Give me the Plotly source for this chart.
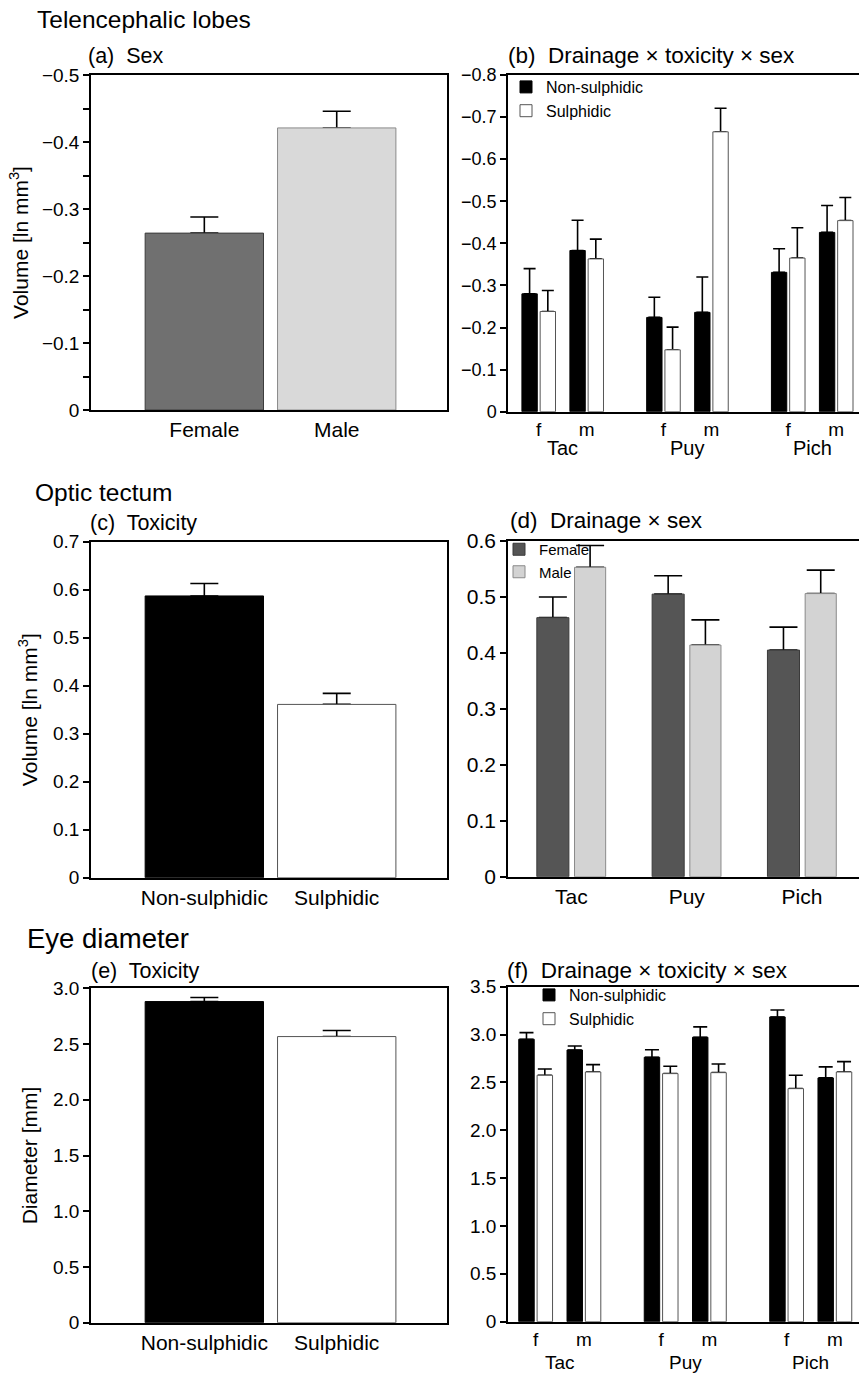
import plotly.graph_objects as go

FONT = "Liberation Sans, Arial, Helvetica, sans-serif"
W, H = 859, 1375

# ---------------- data ----------------
sex_labels = ["Female", "Male"]
tel_sex_mean = [-0.264, -0.421]
tel_sex_se = [0.024, 0.025]

drainages = ["Tac", "Puy", "Pich"]
sexes = ["f", "m"]
# order: Tac f, Tac m, Puy f, Puy m, Pich f, Pich m
tel_ns_mean = [-0.280, -0.383, -0.224, -0.236, -0.331, -0.426]
tel_ns_se = [0.060, 0.072, 0.048, 0.084, 0.056, 0.064]
tel_s_mean = [-0.238, -0.363, -0.147, -0.665, -0.365, -0.454]
tel_s_se = [0.050, 0.047, 0.054, 0.056, 0.072, 0.055]

toxicity_labels = ["Non-sulphidic", "Sulphidic"]
opt_tox_mean = [0.587, 0.361]
opt_tox_se = [0.026, 0.023]

opt_female_mean = [0.463, 0.505, 0.405]
opt_female_se = [0.037, 0.033, 0.041]
opt_male_mean = [0.553, 0.414, 0.506]
opt_male_se = [0.039, 0.045, 0.042]

eye_tox_mean = [2.881, 2.567]
eye_tox_se = [0.036, 0.054]

eye_ns_mean = [2.951, 2.839, 2.763, 2.972, 3.184, 2.547]
eye_ns_se = [0.069, 0.042, 0.079, 0.108, 0.073, 0.115]
eye_s_mean = [2.575, 2.609, 2.592, 2.602, 2.435, 2.609]
eye_s_se = [0.065, 0.077, 0.077, 0.091, 0.140, 0.108]

# tick values / labels
tel_a_ticks = [0, -0.1, -0.2, -0.3, -0.4, -0.5]
tel_a_labels = ["0", "\u22120.1", "\u22120.2", "\u22120.3", "\u22120.4", "\u22120.5"]
tel_a_minor = [-0.05, -0.15, -0.25, -0.35, -0.45]
tel_b_ticks = [0, -0.1, -0.2, -0.3, -0.4, -0.5, -0.6, -0.7, -0.8]
tel_b_labels = ["0", "\u22120.1", "\u22120.2", "\u22120.3", "\u22120.4", "\u22120.5",
                "\u22120.6", "\u22120.7", "\u22120.8"]
opt_c_ticks = [0, 0.1, 0.2, 0.3, 0.4, 0.5, 0.6, 0.7]
opt_c_labels = ["0", "0.1", "0.2", "0.3", "0.4", "0.5", "0.6", "0.7"]
opt_d_ticks = [0, 0.1, 0.2, 0.3, 0.4, 0.5, 0.6]
opt_d_labels = ["0", "0.1", "0.2", "0.3", "0.4", "0.5", "0.6"]
eye_e_ticks = [0, 0.5, 1.0, 1.5, 2.0, 2.5, 3.0]
eye_e_labels = ["0", "0.5", "1.0", "1.5", "2.0", "2.5", "3.0"]
eye_f_ticks = [0, 0.5, 1.0, 1.5, 2.0, 2.5, 3.0, 3.5]
eye_f_labels = ["0", "0.5", "1.0", "1.5", "2.0", "2.5", "3.0", "3.5"]

# ---------------- layout helpers ----------------
GROUP_STEP = 2.6  # spacing between drainages (in sex-slot units)
pos3 = [d * GROUP_STEP + s for d in range(len(drainages)) for s in range(len(sexes))]
sex_ticktext = [sexes[s] for d in range(len(drainages)) for s in range(len(sexes))]
drain_centers = [d * GROUP_STEP + 0.5 for d in range(len(drainages))]


def ydom(top_px, bot_px):
    return [1 - bot_px / H, 1 - top_px / H]


LEFT_X = [91 / W, 447 / W]
RIGHT_X = [508 / W, 1.0]

BLACK = "black"
WHITE_EDGE = "#555555"

fig = go.Figure()


def add_bars(x, y, se, cap, axes, negative=False, **bar_kw):
    """Error bars drawn underneath (one-sided), then the visible bars on top."""
    xa, ya = axes
    zeros = [0] * len(se)
    if negative:
        e = dict(type="data", symmetric=False, array=zeros, arrayminus=se,
                 color=BLACK, thickness=1.6, width=cap)
    else:
        e = dict(type="data", symmetric=False, array=se, arrayminus=zeros,
                 color=BLACK, thickness=1.6, width=cap)
    geom = {k: bar_kw[k] for k in ("width", "offset") if k in bar_kw}
    fig.add_trace(go.Bar(x=x, y=y, marker=dict(color="rgba(0,0,0,0)", line=dict(width=0)),
                         error_y=e, xaxis=xa, yaxis=ya, showlegend=False,
                         hoverinfo="skip", **geom))
    fig.add_trace(go.Bar(x=x, y=y, xaxis=xa, yaxis=ya, **bar_kw))


# (a) Telencephalic lobes: sex
add_bars(sex_labels, tel_sex_mean, tel_sex_se, 14, ("x", "y"), negative=True,
         width=0.894, showlegend=False,
         marker=dict(color=["#707070", "#d9d9d9"], line=dict(color=["#3c3c3c", "#8a8a8a"], width=1)))

# (b) Telencephalic lobes: drainage x toxicity x sex
add_bars(pos3, tel_ns_mean, tel_ns_se, 6, ("x2", "y2"), negative=True,
         width=0.32, offset=-0.35, name="Non-sulphidic", legend="legend",
         marker=dict(color=BLACK, line=dict(color=BLACK, width=1)))
add_bars(pos3, tel_s_mean, tel_s_se, 6, ("x2", "y2"), negative=True,
         width=0.32, offset=0.03, name="Sulphidic", legend="legend",
         marker=dict(color="white", line=dict(color=WHITE_EDGE, width=1)))

# (c) Optic tectum: toxicity
add_bars(toxicity_labels, opt_tox_mean, opt_tox_se, 14, ("x3", "y3"),
         width=0.894, showlegend=False,
         marker=dict(color=[BLACK, "white"], line=dict(color=[BLACK, WHITE_EDGE], width=1)))

# (d) Optic tectum: drainage x sex
add_bars(drainages, opt_female_mean, opt_female_se, 14, ("x4", "y4"),
         width=0.278, offset=-0.3, name="Female", legend="legend2",
         marker=dict(color="#555555", line=dict(color="#3a3a3a", width=1)))
add_bars(drainages, opt_male_mean, opt_male_se, 14, ("x4", "y4"),
         width=0.27, offset=0.027, name="Male", legend="legend2",
         marker=dict(color="#d3d3d3", line=dict(color="#8a8a8a", width=1)))

# (e) Eye diameter: toxicity
add_bars(toxicity_labels, eye_tox_mean, eye_tox_se, 14, ("x5", "y5"),
         width=0.894, showlegend=False,
         marker=dict(color=[BLACK, "white"], line=dict(color=[BLACK, WHITE_EDGE], width=1)))

# (f) Eye diameter: drainage x toxicity x sex
add_bars(pos3, eye_ns_mean, eye_ns_se, 7, ("x6", "y6"),
         width=0.32, offset=-0.35, name="Non-sulphidic", legend="legend3",
         marker=dict(color=BLACK, line=dict(color=BLACK, width=1)))
add_bars(pos3, eye_s_mean, eye_s_se, 7, ("x6", "y6"),
         width=0.32, offset=0.03, name="Sulphidic", legend="legend3",
         marker=dict(color="white", line=dict(color=WHITE_EDGE, width=1)))

# ---------------- axes ----------------
base = dict(showline=True, linecolor=BLACK, linewidth=1.5, showgrid=False, zeroline=False,
            automargin=False, ticklen=6, tickwidth=1.5, tickcolor=BLACK)


def xax(domain, anchor, rng, size, **kw):
    d = dict(base, domain=domain, anchor=anchor, range=rng, ticks="", mirror=True,
             tickfont=dict(family=FONT, size=size, color=BLACK))
    d.update(kw)
    return d


def yax(domain, anchor, rng, vals, text, size, mirror, **kw):
    d = dict(base, domain=domain, anchor=anchor, range=rng, ticks="outside", mirror=mirror,
             tickmode="array", tickvals=vals, ticktext=text,
             tickfont=dict(family=FONT, size=size, color=BLACK))
    d.update(kw)
    return d


LEFT_RANGE = [-0.856, 1.833]
ytitle_font = dict(family=FONT, size=21, color=BLACK)

fig.update_layout(
    xaxis=xax(LEFT_X, "y", LEFT_RANGE, 21),
    yaxis=yax(ydom(75, 410), "x", [0, -0.5], tel_a_ticks, tel_a_labels, 19, True,
              title=dict(text="Volume [ln mm<sup>3</sup>]", font=ytitle_font, standoff=8),
              minor=dict(tickmode="array", tickvals=tel_a_minor, ticks="outside", ticklen=6,
                         tickwidth=1.5, tickcolor=BLACK, showgrid=False)),
    xaxis2=xax(RIGHT_X, "y2", [-0.64, 6.675], 19, tickmode="array", tickvals=pos3,
               ticktext=sex_ticktext),
    yaxis2=yax(ydom(75, 411.7), "x2", [0, -0.8], tel_b_ticks, tel_b_labels, 18, False),
    xaxis3=xax(LEFT_X, "y3", LEFT_RANGE, 21),
    yaxis3=yax(ydom(541.7, 877.7), "x3", [0, 0.7], opt_c_ticks, opt_c_labels, 19, True,
               title=dict(text="Volume [ln mm<sup>3</sup>]", font=ytitle_font, standoff=10)),
    xaxis4=xax(RIGHT_X, "y4", [-0.55, 2.494], 21),
    yaxis4=yax(ydom(541, 876.7), "x4", [0, 0.6], opt_d_ticks, opt_d_labels, 21, False),
    xaxis5=xax(LEFT_X, "y5", LEFT_RANGE, 21),
    yaxis5=yax(ydom(988.3, 1322.7), "x5", [0, 3.0], eye_e_ticks, eye_e_labels, 19, True,
               title=dict(text="Diameter [mm]", font=ytitle_font, standoff=10)),
    xaxis6=xax(RIGHT_X, "y6", [-0.573, 6.70], 19, tickmode="array", tickvals=pos3,
               ticktext=sex_ticktext),
    yaxis6=yax(ydom(986.7, 1321.7), "x6", [0, 3.5], eye_f_ticks, eye_f_labels, 19, False),
)

# ---------------- legends ----------------
leg_common = dict(xanchor="left", yanchor="top", bgcolor="rgba(0,0,0,0)", borderwidth=0,
                  itemwidth=30, tracegroupgap=0, traceorder="normal")
fig.update_layout(
    legend=dict(leg_common, x=506 / W, y=1 - 70 / H, font=dict(family=FONT, size=16, color=BLACK)),
    legend2=dict(leg_common, x=499 / W, y=1 - 533 / H, font=dict(family=FONT, size=15, color=BLACK)),
    legend3=dict(leg_common, x=529 / W, y=1 - 978 / H, font=dict(family=FONT, size=16, color=BLACK)),
)

# ---------------- text annotations ----------------
ann = []


def txt(text, xpx, ypx, size):
    ann.append(dict(text=text, x=xpx / W, y=1 - ypx / H, xref="paper", yref="paper",
                    xanchor="left", yanchor="middle", showarrow=False,
                    font=dict(family=FONT, size=size, color=BLACK)))


txt("Telencephalic lobes", 35, 19, 24.5)
txt("(a)\u00a0 Sex", 86, 56, 21.5)
txt("(b)\u00a0 Drainage \u00d7 toxicity \u00d7 sex", 506, 56, 22.5)
txt("Optic tectum", 33, 493, 24.5)
txt("(c)\u00a0 Toxicity", 88, 523, 21.5)
txt("(d)\u00a0 Drainage \u00d7 sex", 508, 520, 22.5)
txt("Eye diameter", 25, 938, 27.5)
txt("(e)\u00a0 Toxicity", 89, 971, 21.5)
txt("(f)\u00a0 Drainage \u00d7 toxicity \u00d7 sex", 505, 970, 22.5)

for i, name in enumerate(drainages):
    ann.append(dict(text=name, x=drain_centers[i], y=0, xref="x2", yref="y2 domain",
                    xanchor="center", yanchor="middle", yshift=-36, showarrow=False,
                    font=dict(family=FONT, size=20, color=BLACK)))
    ann.append(dict(text=name, x=drain_centers[i], y=0, xref="x6", yref="y6 domain",
                    xanchor="center", yanchor="middle", yshift=-41, showarrow=False,
                    font=dict(family=FONT, size=19, color=BLACK)))

fig.update_layout(
    annotations=ann,
    template="none",
    width=W, height=H,
    margin=dict(l=0, r=0, t=0, b=0, pad=0),
    paper_bgcolor="white", plot_bgcolor="white",
    barmode="overlay",
    showlegend=True,
    font=dict(family=FONT, color=BLACK),
)

fig.write_html("out.html")
